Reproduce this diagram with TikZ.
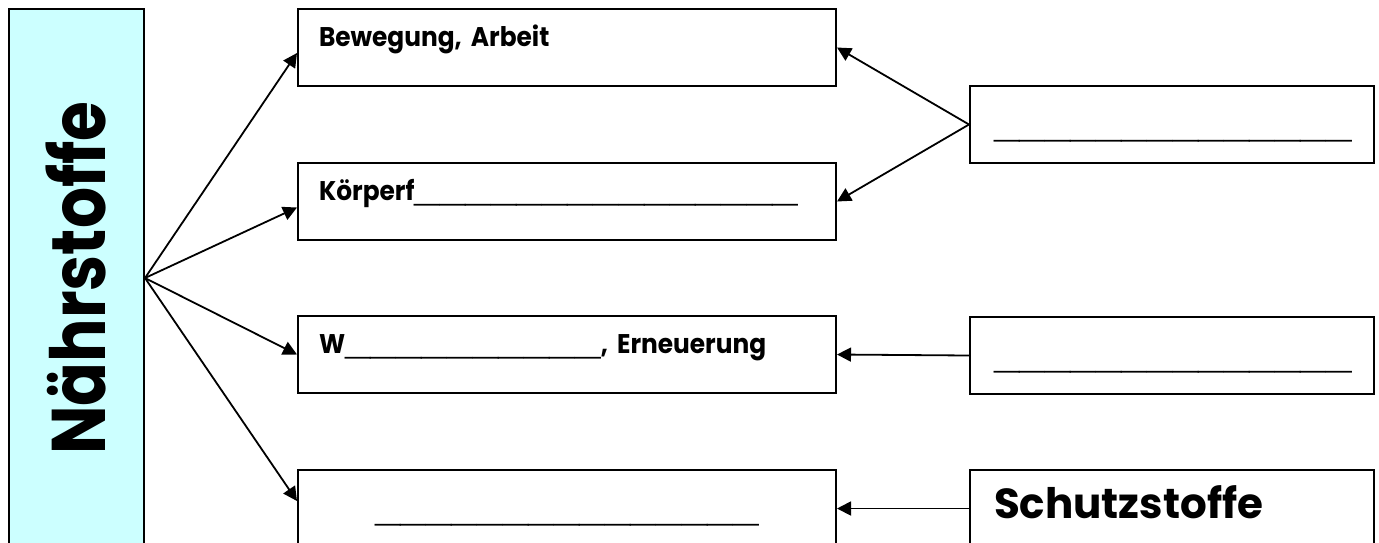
\documentclass[tikz,border=0pt]{standalone}
\usepackage{fontspec}
\setmainfont{Poppins}
\newfontfamily\feldfont{Poppins}[FakeStretch=0.92]
\newfontfamily\titelfont{Poppins}[FakeStretch=0.85]
\newfontfamily\linienfont{Liberation Sans}
\usetikzlibrary{positioning, arrows.meta, calc}
\definecolor{hellcyan}{HTML}{CCFFFF}

% Luecke zum Ausfuellen
\newcommand{\luecke}[1]{{\linienfont\fontsize{23}{23}\selectfont\foreach \n in {1,...,#1}{\_}}}

\begin{document}
\begin{tikzpicture}[x=0.5pt, y=-0.5pt,
    feld/.style={rectangle, draw, line width=1pt, anchor=north west, inner xsep=10.5pt, inner ysep=0pt, text width=248pt, align=left, text height=18.5pt, text depth=20pt, font=\feldfont\bfseries\fontsize{13.5}{16}\selectfont},
    feldtief/.style={feld, text height=25pt, text depth=13.5pt},
    rfeld/.style={feldtief, inner xsep=12pt, text width=178pt},
    pfeil/.style={-{Triangle[length=7pt, width=7pt]}, line width=0.9pt}
]
\clip (0,0) rectangle (1379,542);

% Naehrstoffe
\node[draw, fill=hellcyan, line width=1pt, anchor=north west, minimum width=67.5pt, minimum height=269pt, inner sep=0pt] (naehr) at (8,8) {\rotatebox{90}{\titelfont\bfseries\fontsize{38}{40}\selectfont N\"ahrstoffe}};

% Felder links
\node[feld] (l1) at (297,8) {Bewegung, Arbeit};
\node[feld] (l2) at (297,162) {K\"orperf\luecke{15}};
\node[feld] (l3) at (297,315) {W\luecke{10}, Erneuerung};
\node[feldtief, align=center] (l4) at (297,469) {\luecke{15}};

% Felder rechts
\node[rfeld, align=center] (r1) at (969,85) {\luecke{14}};
\node[rfeld, align=center] (r2) at (969,316) {\luecke{14}};
\node[rfeld, text height=24pt, text depth=14.5pt, font=\bfseries\fontsize{21}{24}\selectfont] (r3) at (969,469) {Schutzstoffe};

% Pfeile
\draw[pfeil] (naehr.east) -- ([yshift=-2.75pt]l1.west);
\draw[pfeil] (naehr.east) -- ([yshift=-3pt]l2.west);
\draw[pfeil] (naehr.east) -- (l3.west);
\draw[pfeil] (naehr.east) -- ([yshift=3.75pt]l4.west);

\draw[pfeil] (r1.west) -- (l1.east);
\draw[pfeil] (r1.west) -- (l2.east);
\draw[pfeil] (r2.west) -- (l3.east);
\draw[pfeil] (r3.west) -- (l4.east);

\end{tikzpicture}
\end{document}
